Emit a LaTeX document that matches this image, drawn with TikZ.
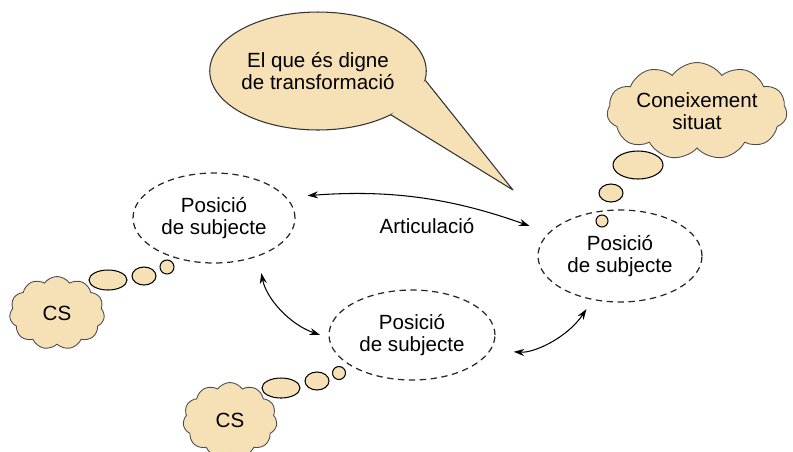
\documentclass[tikz,border=0pt]{standalone}
\usepackage{fontspec}
\setmainfont{Liberation Sans}
\usetikzlibrary{shapes.geometric,shapes.symbols,arrows.meta}
\definecolor{bubblefill}{RGB}{246,224,181}
\begin{document}
\begin{tikzpicture}[x=0.02cm,y=-0.02cm,>={Stealth[length=6pt,width=4pt]}]
            \tikzstyle{posnode}=[ellipse, draw=black!85, dash pattern=on 3.6pt off 2.6pt, line width=0.7pt, inner sep=0pt, align=center, font=\fontsize{11.7}{12.5}\selectfont]
            \tikzstyle{cloudnode}=[cloud, cloud puffs=11, cloud puff arc=110, cloud ignores aspect, draw=black!70, fill=bubblefill, line width=0.5pt, inner sep=-4pt, align=center, font=\fontsize{11.7}{12.5}\selectfont]
            \tikzstyle{puff}=[ellipse, draw=black, fill=bubblefill, line width=0.6pt, inner sep=0pt]
            \tikzstyle{linkedge}=[<->, line width=0.6pt]
            \useasboundingbox (0,0) rectangle (793,451);
            % positions
            \node[posnode, minimum width=3.24cm, minimum height=1.8cm] (P1) at (214,218) {Posició\\de subjecte};
            \node[posnode, minimum width=3.32cm, minimum height=1.8cm] (P2) at (412,335) {Posició\\de subjecte};
            \node[posnode, minimum width=3.28cm, minimum height=1.84cm] (P3) at (620,256) {Posició\\de subjecte};
            \node[font=\fontsize{11.7}{12.5}\selectfont] (art) at (427,226) {Articulació};
            % speech bubble
            \coordinate (tip) at (513,190);
            \node[ellipse, draw=black!80, fill=bubblefill, line width=0.6pt, minimum width=4.04cm, minimum height=2.36cm, inner sep=0pt, align=center, font=\fontsize{11.7}{12.5}\selectfont] (T) at (318,71) {El que és digne\\de transformació};
            \fill[bubblefill] (T.-5) -- (tip) -- (T.-31) -- cycle;
            \draw[black!80, line width=0.6pt, line join=round] (T.-5) -- (tip) -- (T.-31);
            % clouds
            \node[cloudnode, minimum width=3.6cm, minimum height=1.94cm] (K) at (697,111) {Coneixement\\situat};
            \node[cloudnode, minimum width=1.9cm, minimum height=1.46cm] (CS1) at (57,313) {CS};
            \node[cloudnode, minimum width=1.88cm, minimum height=1.5cm] (CS2) at (230,420) {CS};
            % thought puffs
            \node[puff, minimum width=1.0cm, minimum height=0.56cm] (k1) at (638,165) {};
            \node[puff, minimum width=0.48cm, minimum height=0.36cm] (k2) at (611,193) {};
            \node[puff, minimum width=0.24cm, minimum height=0.24cm] (k3) at (602,221) {};
            \node[puff, minimum width=0.76cm, minimum height=0.4cm] (a1) at (108,280) {};
            \node[puff, minimum width=0.48cm, minimum height=0.36cm] (a2) at (144,276) {};
            \node[puff, minimum width=0.28cm, minimum height=0.28cm] (a3) at (167,267) {};
            \node[puff, minimum width=0.76cm, minimum height=0.4cm] (b1) at (281,388) {};
            \node[puff, minimum width=0.48cm, minimum height=0.36cm] (b2) at (317,381) {};
            \node[puff, minimum width=0.26cm, minimum height=0.26cm] (b3) at (339,373) {};
            % articulations
            \path [linkedge] (P1.16) edge[bend left=12, shorten <=0.42cm, shorten >=0.4cm] (P3.162);
            \path [linkedge] (P1.-41) edge[bend right=30, shorten <=0.34cm, shorten >=0.18cm] (P2.182);
            \path [linkedge] (P2.-11) edge[bend right=30, shorten <=0.46cm, shorten >=0.22cm] (P3.-122);
        \end{tikzpicture}
\end{document}
